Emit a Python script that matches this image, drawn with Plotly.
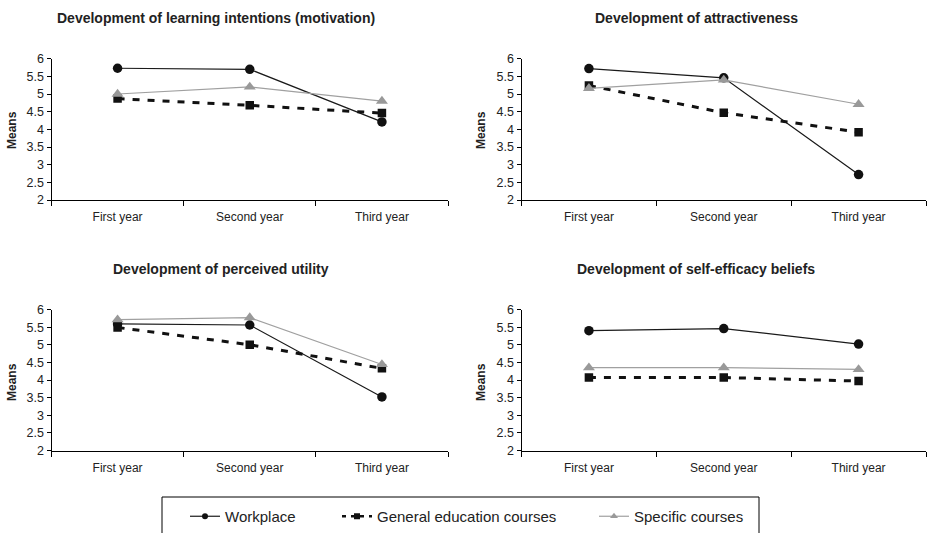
import plotly.graph_objects as go

W, H = 927, 533

years = ["First year", "Second year", "Third year"]
series_names = ["Workplace", "General education courses", "Specific courses"]

panel_titles = [
    "Development of learning intentions (motivation)",
    "Development of attractiveness",
    "Development of perceived utility",
    "Development of self-efficacy beliefs",
]

# values per panel: workplace, general, specific
motivation_workplace = [5.73, 5.70, 4.21]
motivation_general = [4.87, 4.68, 4.46]
motivation_specific = [5.00, 5.20, 4.80]

attract_workplace = [5.72, 5.46, 2.72]
attract_general = [5.24, 4.47, 3.92]
attract_specific = [5.16, 5.40, 4.71]

utility_workplace = [5.59, 5.56, 3.52]
utility_general = [5.49, 5.00, 4.33]
utility_specific = [5.71, 5.77, 4.44]

efficacy_workplace = [5.40, 5.46, 5.02]
efficacy_general = [4.07, 4.07, 3.97]
efficacy_specific = [4.35, 4.35, 4.30]

panels = [
    (motivation_workplace, motivation_general, motivation_specific),
    (attract_workplace, attract_general, attract_specific),
    (utility_workplace, utility_general, utility_specific),
    (efficacy_workplace, efficacy_general, efficacy_specific),
]

y_ticks = [2, 2.5, 3, 3.5, 4, 4.5, 5, 5.5, 6]
y_tick_text = ["2", "2.5", "3", "3.5", "4", "4.5", "5", "5.5", "6"]

FONT = "Liberation Sans, Arial, sans-serif"
TXT = "#222222"

styles = [
    dict(line=dict(color="#1a1a1a", width=1.2),
         marker=dict(symbol="circle", size=9.5, color="#111111")),
    dict(line=dict(color="#111111", width=3, dash="7px,8px"),
         marker=dict(symbol="square", size=8.5, color="#111111")),
    dict(line=dict(color="#a0a0a0", width=1.2),
         marker=dict(symbol="triangle-up", size=10.5, color="#999999")),
]
legend_styles = [
    dict(line=dict(color="#1a1a1a", width=1.2),
         marker=dict(symbol="circle", size=6, color="#111111")),
    dict(line=dict(color="#111111", width=2.5, dash="4px,5px"),
         marker=dict(symbol="square", size=6, color="#111111")),
    dict(line=dict(color="#a0a0a0", width=1.2),
         marker=dict(symbol="triangle-up", size=7, color="#999999")),
]

fig = go.Figure()

x_domains = [[51.5 / W, 448 / W], [521.5 / W, 926 / W]]
y_domains = [[1 - 450.5 / H, 1 - 309.5 / H], [1 - 200 / H, 1 - 58.7 / H]]

for i, vals in enumerate(panels):
    ax = "" if i == 0 else str(i + 1)
    for j, v in enumerate(vals):
        fig.add_trace(go.Scatter(
            x=years, y=v, mode="lines+markers", name=series_names[j],
            showlegend=False, xaxis="x" + ax, yaxis="y" + ax,
            **styles[j]))

legend_widths = [107, 212, 110]
for j in range(3):
    fig.add_trace(go.Scatter(
        x=[None], y=[None], mode="lines+markers", name=series_names[j],
        showlegend=True, legendwidth=legend_widths[j], **legend_styles[j]))

layout = {}
for i in range(4):
    ax = "" if i == 0 else str(i + 1)
    col = i % 2
    row = 1 if i < 2 else 0
    layout["xaxis" + ax] = dict(
        domain=x_domains[col], anchor="y" + ax, type="category",
        range=[-0.5, 2.5], showline=True, linecolor="#000", linewidth=1,
        ticks="outside", tickson="boundaries", ticklen=5, tickcolor="#000",
        ticklabelstandoff=6,
        showgrid=False, zeroline=False, automargin=False,
        tickfont=dict(family=FONT, size=12, color=TXT))
    layout["yaxis" + ax] = dict(
        domain=y_domains[row], anchor="x" + ax, range=[2, 6],
        tickvals=y_ticks, ticktext=y_tick_text,
        showline=True, linecolor="#000", linewidth=1,
        ticks="outside", ticklen=4, tickcolor="#000",
        showgrid=False, zeroline=False, automargin=False,
        tickfont=dict(family=FONT, size=12.5, color=TXT))

title_pos = [(216, 18), (696, 18), (221, 269), (696, 269)]
annotations = []
for t, (px, py) in zip(panel_titles, title_pos):
    annotations.append(dict(
        text="<b>" + t + "</b>", x=px / W, y=1 - py / H, xref="paper",
        yref="paper", xanchor="center", yanchor="middle", showarrow=False,
        font=dict(family=FONT, size=14, color=TXT)))
for (px, py) in [(12, 130), (481, 130), (12, 382), (481, 382)]:
    annotations.append(dict(
        text="<b>Means</b>", x=px / W, y=1 - py / H, xref="paper",
        yref="paper", xanchor="center", yanchor="middle", showarrow=False,
        textangle=-90, font=dict(family=FONT, size=12, color=TXT)))

fig.update_layout(
    **layout,
    width=W, height=H,
    margin=dict(l=0, r=0, t=0, b=0),
    paper_bgcolor="white", plot_bgcolor="white",
    font=dict(family=FONT, color=TXT),
    annotations=annotations,
    shapes=[dict(type="rect", xref="paper", yref="paper",
                 x0=162 / W, x1=759 / W, y0=-0.02, y1=1 - 497 / H,
                 line=dict(color="#000", width=1), fillcolor="rgba(0,0,0,0)")],
    showlegend=True,
    legend=dict(orientation="h", x=185 / W, xanchor="left",
                y=0.0, yanchor="bottom", bgcolor="rgba(0,0,0,0)",
                borderwidth=0, font=dict(family=FONT, size=15, color=TXT),
                itemclick=False),
)

fig.write_html(
    "out.html",
    config={"displayModeBar": False},
    post_script="document.body.style.margin='0';document.body.style.overflow='hidden';",
)
